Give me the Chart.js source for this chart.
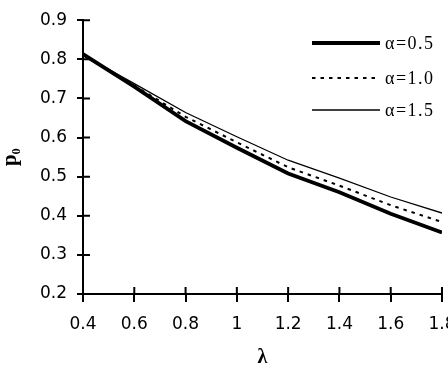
<!DOCTYPE html>
<html>
<head>
<meta charset="utf-8">
<script src="https://cdn.jsdelivr.net/npm/chart.js@4"></script>
<style>
  body { margin: 0; overflow: hidden; background: #fff; }
  #wrap { width: 470px; height: 368px; }
</style>
</head>
<body>
<div id="wrap"><canvas id="p0Chart"></canvas></div>
<script>
// values
var lambdaVals = [0.4, 0.6, 0.8, 1.0, 1.2, 1.4, 1.6, 1.8];
var alpha05 = [0.813, 0.730, 0.642, 0.574, 0.508, 0.460, 0.405, 0.357];
var alpha10 = [0.812, 0.733, 0.653, 0.588, 0.524, 0.477, 0.427, 0.384];
var alpha15 = [0.811, 0.738, 0.664, 0.602, 0.542, 0.496, 0.448, 0.407];
var seriesLabels = ["\u03b1=0.5", "\u03b1=1.0", "\u03b1=1.5"];

function toPoints(ys) {
    return lambdaVals.map(function (x, i) { return { x: x, y: ys[i] }; });
}

// inner half of the tick marks (ticks cross the axis)
var innerTicks = {
    id: "innerTicks",
    afterDraw: function (chart) {
        var ctx = chart.ctx;
        var xs = chart.scales.x, ys = chart.scales.y;
        var area = chart.chartArea;
        ctx.save();
        ctx.strokeStyle = "black";
        ctx.lineWidth = 2;
        ctx.beginPath();
        xs.ticks.forEach(function (t) {
            var px = xs.getPixelForValue(t.value);
            ctx.moveTo(px, area.bottom);
            ctx.lineTo(px, area.bottom - 7);
        });
        ys.ticks.forEach(function (t) {
            var py = ys.getPixelForValue(t.value);
            ctx.moveTo(area.left, py);
            ctx.lineTo(area.left + 7, py);
        });
        ctx.stroke();
        ctx.restore();
    }
};

// legend drawn in the upper right, like the original figure
var lineLegend = {
    id: "lineLegend",
    afterDraw: function (chart) {
        var ctx = chart.ctx;
        var rows = [43, 78, 110];
        ctx.save();
        chart.data.datasets.forEach(function (ds, i) {
            var y = rows[i];
            ctx.strokeStyle = "black";
            ctx.lineWidth = ds.borderWidth;
            ctx.setLineDash(ds.borderDash || []);
            ctx.beginPath();
            ctx.moveTo(312, y);
            ctx.lineTo(380, y);
            ctx.stroke();
            ctx.setLineDash([]);
            ctx.fillStyle = "black";
            ctx.font = "18px 'Liberation Serif'";
            ctx.letterSpacing = "1.5px";
            ctx.textBaseline = "middle";
            ctx.fillText(ds.label, 385, y + 1);
        });
        ctx.restore();
    }
};

new Chart(document.getElementById("p0Chart").getContext("2d"), {
    type: "line",
    data: {
        datasets: [{
            label: seriesLabels[0],
            data: toPoints(alpha05),
            borderColor: "black",
            borderWidth: 3.8,
            pointRadius: 0,
            tension: 0
        }, {
            label: seriesLabels[1],
            data: toPoints(alpha10),
            borderColor: "black",
            borderWidth: 2,
            borderDash: [3.5, 5],
            pointRadius: 0,
            tension: 0
        }, {
            label: seriesLabels[2],
            data: toPoints(alpha15),
            borderColor: "black",
            borderWidth: 1.3,
            pointRadius: 0,
            tension: 0
        }]
    },
    options: {
        responsive: true,
        maintainAspectRatio: false,
        animation: false,
        layout: { padding: { left: 0, top: 19, right: 28, bottom: 0 } },
        plugins: {
            legend: { display: false },
            tooltip: { enabled: false }
        },
        scales: {
            x: {
                type: "linear",
                min: 0.4,
                max: 1.8,
                afterFit: function (s) { s.height = 74; },
                border: { color: "black", width: 2 },
                grid: { drawOnChartArea: false, color: "black", lineWidth: 2, tickLength: 8 },
                ticks: {
                    stepSize: 0.2,
                    color: "black",
                    padding: 12,
                    maxRotation: 0,
                    font: { family: "DejaVu Sans", size: 17 },
                    callback: function (v) { return String(Math.round(v * 10) / 10); }
                },
                title: {
                    display: true,
                    text: "\u03bb",
                    color: "black",
                    padding: { top: 0, bottom: 0 },
                    font: { family: "Liberation Serif", size: 20, weight: "bold", lineHeight: 1 }
                }
            },
            y: {
                min: 0.2,
                max: 0.9,
                afterFit: function (s) { s.width = 83; },
                border: { color: "black", width: 2 },
                grid: { drawOnChartArea: false, color: "black", lineWidth: 2, tickLength: 6 },
                ticks: {
                    stepSize: 0.1,
                    color: "black",
                    padding: 10,
                    font: { family: "DejaVu Sans", size: 17 },
                    callback: function (v) { return (Math.round(v * 10) / 10).toFixed(1); }
                },
                title: {
                    display: true,
                    text: "p\u2080",
                    color: "black",
                    padding: { top: 0, bottom: 0 },
                    font: { family: "Liberation Serif", size: 21, weight: "bold", lineHeight: 1 }
                }
            }
        }
    },
    plugins: [innerTicks, lineLegend]
});
</script>
</body>
</html>
